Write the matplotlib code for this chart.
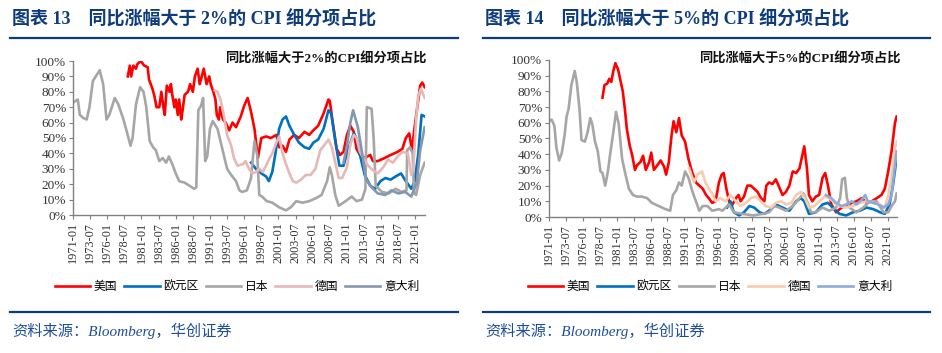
import matplotlib
matplotlib.use('Agg')
import matplotlib.pyplot as plt
from matplotlib.lines import Line2D
from matplotlib.ticker import PercentFormatter
import numpy as np

plt.rcParams['font.family'] = ['Liberation Serif', 'Noto Sans CJK SC']

# x axis labels (every 30 months)
tick_labels = ['1971-01', '1973-07', '1976-01', '1978-07', '1981-01', '1983-07', '1986-01',
               '1988-07', '1991-01', '1993-07', '1996-01', '1998-07', '2001-01', '2003-07',
               '2006-01', '2008-07', '2011-01', '2013-07', '2016-01', '2018-07', '2021-01']
names = ['美国', '欧元区', '日本', '德国', '意大利']

# ---------- share of CPI items with yoy > 2% (%), time in decimal years ----------
us2_t = [1979.0, 1979.3, 1979.5, 1979.8, 1980.2, 1980.4, 1980.9, 1981.4, 1981.9, 1982.1, 1982.6,
         1982.9, 1983.2, 1983.6, 1983.9, 1984.2, 1984.4, 1984.7, 1985.1, 1985.3, 1985.5, 1985.8,
         1986.0, 1986.3, 1986.5, 1986.8, 1987.0, 1987.3, 1987.8, 1988.1, 1988.5, 1988.8, 1989.2,
         1989.5, 1989.8, 1990.1, 1990.5, 1990.9, 1991.1, 1991.5, 1991.8, 1992.0, 1992.3, 1992.5,
         1992.9, 1993.3, 1993.8, 1994.3, 1994.8, 1995.5, 1996.0, 1996.5, 1997.0, 1997.5, 1998.0,
         1998.5, 1999.2, 1999.9, 2000.7, 2001.1, 2001.6, 2002.1, 2002.6, 2003.3, 2004.0, 2004.8,
         2005.5, 2006.1, 2006.8, 2007.6, 2008.3, 2008.5, 2008.9, 2009.5, 2010.0, 2010.5, 2011.0,
         2011.5, 2012.0, 2012.4, 2012.9, 2013.6, 2014.4, 2014.8, 2015.5, 2016.5, 2017.4, 2018.4,
         2019.1, 2019.6, 2020.1, 2020.5, 2020.8, 2021.3, 2021.7, 2022.0, 2022.35]
us2_v = [90, 97, 90, 97, 95, 98, 100, 97, 96, 88, 82,
         77, 70, 70, 80, 70, 65, 84, 80, 85, 78, 70,
         75, 65, 75, 62, 68, 78, 80, 85, 80, 90, 95,
         85, 90, 95, 85, 90, 85, 80, 75, 65, 62, 70,
         62, 60, 55, 60, 57, 64, 71, 76, 67, 56, 37,
         50, 51, 50, 52, 44, 45, 41, 49, 52, 50, 54,
         52, 55, 58, 66, 75, 74, 61, 43, 39, 41, 52,
         58, 54, 43, 39, 37, 39, 35, 35, 37, 39, 41,
         43, 50, 53, 42, 54, 71, 84, 86, 83]

eu2_t = [1997.0, 1997.7, 1998.5, 1999.2, 1999.6, 2000.1, 2000.6, 2001.1, 2001.6, 2002.1, 2002.6,
         2003.3, 2004.0, 2004.8, 2005.5, 2006.1, 2006.8, 2007.6, 2008.3, 2008.7, 2009.3, 2009.9,
         2010.5, 2011.2, 2012.0, 2012.4, 2012.9, 2013.6, 2014.4, 2015.1, 2015.9, 2016.6, 2017.4,
         2018.1, 2018.9, 2019.6, 2020.4, 2020.9, 2021.4, 2021.9, 2022.35]
eu2_v = [34, 30, 27, 25, 22, 28, 41, 56, 62, 64, 58,
         52, 47, 44, 43, 47, 49, 56, 68, 66, 48, 32,
         32, 43, 53, 50, 39, 26, 19, 17, 22, 24, 23,
         25, 27, 22, 17, 22, 39, 65, 64]

jp2_t = [1971.0, 1971.7, 1972.0, 1972.5, 1973.0, 1973.4, 1973.9, 1974.9, 1975.4, 1975.9, 1976.3,
         1977.1, 1977.6, 1978.3, 1978.8, 1979.4, 1979.7, 1980.2, 1980.8, 1981.3, 1981.7, 1982.2,
         1982.7, 1983.1, 1983.6, 1984.1, 1984.6, 1985.0, 1985.5, 1986.0, 1986.5, 1987.3, 1988.0,
         1988.7, 1989.0, 1989.3, 1989.7, 1990.0, 1990.3, 1990.6, 1991.0, 1991.4, 1992.1, 1992.8,
         1993.5, 1994.1, 1994.8, 1995.3, 1995.7, 1996.4, 1997.0, 1997.5, 1997.9, 1998.2, 1998.6,
         1999.3, 2000.1, 2001.1, 2002.1, 2002.8, 2003.6, 2004.5, 2005.5, 2006.5, 2007.3, 2008.1,
         2008.5, 2008.8, 2009.3, 2009.8, 2010.8, 2011.7, 2012.4, 2013.2, 2013.7, 2013.9, 2014.6,
         2014.9, 2015.2, 2016.1, 2017.1, 2018.1, 2019.0, 2019.7, 2019.8, 2020.2, 2020.6, 2020.8,
         2021.1, 2021.7, 2022.35]
jp2_v = [73, 75, 65, 63, 62, 70, 87, 94, 85, 62, 65,
         76, 72, 63, 55, 45, 50, 72, 83, 80, 70, 48,
         44, 42, 35, 37, 34, 38, 33, 27, 22, 21, 19,
         17, 18, 68, 71, 76, 35, 38, 56, 61, 56, 43,
         30, 26, 22, 16, 15, 16, 24, 48, 39, 13, 12,
         9, 8, 5, 3, 5, 9, 8, 9, 11, 13, 22,
         31, 26, 13, 6, 9, 12, 9, 10, 17, 70, 69,
         50, 19, 15, 14, 17, 15, 16, 42, 44, 40, 14,
         13, 26, 34]

de2_t = [1991.7, 1992.1, 1992.6, 1993.1, 1993.5, 1994.1, 1994.5, 1995.0, 1995.8, 1996.2, 1996.7,
         1997.2, 1997.7, 1998.2, 1998.7, 1999.2, 1999.6, 2000.1, 2000.6, 2001.1, 2001.6, 2002.1,
         2002.6, 2003.1, 2003.6, 2004.3, 2005.0, 2005.7, 2006.4, 2007.1, 2007.8, 2008.3, 2008.8,
         2009.3, 2009.8, 2010.3, 2011.0, 2011.5, 2012.0, 2012.4, 2012.9, 2013.4, 2014.1, 2014.8,
         2015.5, 2016.3, 2017.0, 2017.7, 2018.4, 2019.1, 2019.9, 2020.4, 2020.7, 2021.1, 2021.4,
         2021.8, 2022.35]
de2_v = [81, 80, 74, 63, 52, 45, 37, 32, 33, 35, 30,
         27, 28, 30, 28, 32, 36, 40, 46, 51, 40, 33,
         27, 22, 21, 23, 26, 26, 30, 42, 46, 49, 44,
         34, 24, 24, 31, 46, 52, 50, 41, 37, 32, 29,
         27, 31, 36, 34, 38, 41, 40, 26, 30, 62, 77,
         82, 76]

it2_t = [2010.5, 2011.0, 2011.5, 2011.9, 2012.6, 2013.3, 2013.8, 2014.6, 2015.5, 2016.6, 2017.5,
         2018.5, 2019.5, 2020.4, 2021.2, 2021.7, 2022.35]
it2_v = [34, 45, 60, 68, 57, 38, 23, 18, 14, 13, 16,
         14, 15, 12, 21, 42, 57]

# ---------- share of CPI items with yoy > 5% (%) ----------
us5_t = [1978.9, 1979.2, 1979.6, 1979.9, 1980.2, 1980.5, 1980.8, 1981.2, 1981.5, 1981.9, 1982.2,
         1982.5, 1982.9, 1983.3, 1983.7, 1984.0, 1984.5, 1984.9, 1985.3, 1985.8, 1986.1, 1986.5,
         1987.0, 1987.5, 1988.0, 1988.3, 1988.7, 1989.1, 1989.4, 1989.8, 1990.2, 1990.6, 1991.1,
         1991.6, 1992.1, 1992.7, 1993.2, 1993.7, 1994.2, 1994.6, 1995.1, 1995.6, 1996.1, 1996.5,
         1996.8, 1997.2, 1997.6, 1998.1, 1998.6, 1999.0, 1999.3, 1999.8, 2000.3, 2000.8, 2001.3,
         2001.8, 2002.3, 2002.8, 2003.1, 2003.5, 2004.0, 2004.5, 2005.0, 2005.5, 2006.0, 2006.5,
         2007.0, 2007.5, 2008.0, 2008.4, 2008.7, 2009.1, 2009.4, 2009.9, 2010.4, 2010.9, 2011.4,
         2011.8, 2012.2, 2012.7, 2013.4, 2014.2, 2014.9, 2015.7, 2016.4, 2017.2, 2017.9, 2018.7,
         2019.4, 2020.1, 2020.6, 2021.1, 2021.6, 2022.1, 2022.35]
us5_v = [76, 84, 85, 88, 86, 93, 98, 94, 88, 80, 69,
         56, 46, 39, 30, 33, 35, 39, 30, 35, 41, 30,
         33, 36, 32, 27, 35, 52, 61, 54, 63, 52, 48,
         37, 29, 22, 20, 18, 14, 12, 9, 10, 22, 27,
         28, 18, 10, 8, 12, 14, 10, 13, 20, 20, 18,
         16, 12, 10, 20, 22, 21, 24, 19, 14, 16, 20,
         29, 28, 31, 39, 45, 31, 14, 10, 13, 14, 25,
         28, 20, 8, 3, 6, 7, 9, 10, 12, 9, 10,
         12, 14, 18, 29, 42, 60, 64]

eu5_t = [1997.3, 1997.8, 1998.3, 1999.1, 1999.8, 2000.6, 2001.3, 2002.1, 2002.8, 2003.5, 2004.5,
         2005.5, 2006.5, 2007.5, 2008.2, 2008.7, 2009.4, 2010.4, 2011.4, 2012.2, 2012.9, 2013.9,
         2014.9, 2015.9, 2016.9, 2017.9, 2018.9, 2019.9, 2020.6, 2021.3, 2021.8, 2022.35]
eu5_v = [6, 10, 3, 1, 3, 7, 6, 3, 2, 4, 8,
         6, 4, 10, 12, 10, 2, 3, 8, 9, 6, 2,
         1, 3, 4, 6, 5, 3, 2, 8, 20, 38]

jp5_t = [1971.0, 1971.4, 1971.8, 1972.1, 1972.5, 1972.9, 1973.3, 1973.6, 1973.9, 1974.3, 1974.8,
         1975.1, 1975.5, 1975.8, 1976.3, 1976.7, 1977.1, 1977.4, 1977.8, 1978.2, 1978.6, 1978.9,
         1979.3, 1979.7, 1980.0, 1980.5, 1980.9, 1981.3, 1981.8, 1982.3, 1982.8, 1983.4, 1984.0,
         1984.7, 1985.5, 1986.2, 1987.2, 1988.2, 1988.9, 1989.3, 1989.8, 1990.2, 1990.6, 1991.1,
         1991.6, 1992.2, 1992.7, 1993.2, 1993.7, 1994.4, 1995.1, 1996.1, 1996.6, 1997.6, 1998.3,
         1999.6, 2001.1, 2002.6, 2003.5, 2004.3, 2005.0, 2006.0, 2007.0, 2008.0, 2008.6, 2009.1,
         2009.7, 2010.4, 2011.4, 2012.4, 2013.4, 2014.0, 2014.3, 2014.7, 2015.0, 2015.4, 2016.4,
         2017.4, 2018.4, 2019.4, 2020.4, 2021.1, 2021.6, 2022.1, 2022.35]
jp5_v = [61, 62, 58, 44, 36, 41, 52, 64, 69, 84, 93,
         86, 69, 49, 48, 54, 63, 59, 48, 42, 29, 28,
         20, 29, 39, 54, 67, 59, 37, 27, 18, 14, 13,
         13, 12, 9, 7, 5, 4, 14, 17, 22, 20, 29,
         25, 16, 10, 4, 7, 7, 4, 5, 4, 8, 3,
         2, 1, 2, 3, 7, 6, 4, 7, 12, 15, 10,
         3, 3, 6, 4, 6, 12, 24, 25, 12, 6, 3,
         6, 10, 10, 3, 3, 7, 10, 15]

de5_t = [1991.7, 1992.4, 1992.9, 1993.6, 1994.1, 1994.6, 1995.1, 1995.6, 1996.3, 1997.1, 1997.8,
         1998.6, 1999.3, 2000.1, 2000.8, 2001.6, 2002.3, 2003.0, 2003.8, 2004.5, 2005.3, 2006.0,
         2006.8, 2007.5, 2008.2, 2008.7, 2009.4, 2010.2, 2010.9, 2011.7, 2012.4, 2013.2, 2013.9,
         2014.9, 2015.9, 2016.9, 2017.9, 2018.9, 2019.9, 2020.6, 2021.1, 2021.6, 2022.1, 2022.35]
de5_v = [31, 22, 27, 29, 22, 18, 15, 10, 12, 10, 14,
         10, 7, 9, 12, 13, 10, 7, 6, 9, 10, 8,
         9, 14, 16, 13, 6, 7, 10, 13, 12, 9, 7,
         6, 7, 9, 10, 9, 8, 6, 14, 25, 44, 48]

it5_t = [2011.9, 2012.7, 2013.4, 2014.2, 2014.9, 2015.7, 2016.4, 2017.2, 2017.7, 2018.1, 2018.9,
         2019.6, 2020.4, 2021.1, 2021.6, 2022.1, 2022.35]
it5_v = [14, 12, 9, 7, 8, 10, 8, 11, 14, 10, 9,
         8, 6, 8, 14, 33, 42]

colors2 = ['#ff0000', '#0070c0', '#a6a6a6', '#e6b9b8', '#8497b0']
colors5 = ['#ff0000', '#0070c0', '#a6a6a6', '#f8cbad', '#8eaadb']

W, H = 942, 353
fig = plt.figure(figsize=(W / 100, H / 100), dpi=100)
navy = '#0d3b7c'


def fx(px):
    return px / W


def fy(py):
    return 1 - py / H


tick_pos = [int(s[:4]) + (int(s[5:]) - 1) / 12 for s in tick_labels]


def panel(rect, series, colors, inner_title, title_x):
    ax = fig.add_axes(rect)
    for (t, v), c, n in zip(series, colors, names):
        ax.plot(t, np.array(v) / 100, color=c, lw=1.9, label=n, solid_joinstyle='round')
    ax.set_xlim(1971, 2022.4)
    ax.set_ylim(0, 1)
    ax.set_yticks(np.arange(0, 1.01, 0.1))
    ax.yaxis.set_major_formatter(PercentFormatter(1, decimals=0))
    ax.set_xticks(tick_pos)
    ax.set_xticklabels(tick_labels, rotation=90)
    for s in ['top', 'right']:
        ax.spines[s].set_visible(False)
    for s in ['left', 'bottom']:
        ax.spines[s].set_color('#808080')
        ax.spines[s].set_linewidth(1.0)
    ax.tick_params(axis='y', direction='out', length=3, color='#808080',
                   labelsize=9.5, labelcolor='#333333', pad=2)
    ax.tick_params(axis='x', direction='out', length=3, color='#808080',
                   labelsize=8.8, labelcolor='#333333', pad=2)
    ax.patch.set_alpha(0)
    fig.text(title_x, fy(58), inner_title, fontsize=9.5, fontweight='bold',
             ha='center', va='center', color='#111111')
    return ax


s2 = [(us2_t, us2_v), (eu2_t, eu2_v), (jp2_t, jp2_v), (de2_t, de2_v), (it2_t, it2_v)]
s5 = [(us5_t, us5_v), (eu5_t, eu5_v), (jp5_t, jp5_v), (de5_t, de5_v), (it5_t, it5_v)]

ax1 = panel([fx(73), fy(215), fx(352), (215 - 61) / H], s2, colors2,
            '同比涨幅大于2%的CPI细分项占比', fx(326))
ax2 = panel([fx(549), fy(217), fx(348), (217 - 60) / H], s5, colors5,
            '同比涨幅大于5%的CPI细分项占比', fx(800))

# headers, rules, legends, source
for x0, x1, lbl, ax, lx in [(10, 458, '图表 13　同比涨幅大于 2%的 CPI 细分项占比', ax1, 237),
                             (483, 930, '图表 14　同比涨幅大于 5%的 CPI 细分项占比', ax2, 710)]:
    fig.text(fx(x0 + 2), fy(19), lbl, fontsize=13, fontweight='bold', color=navy,
             ha='left', va='center')
    fig.add_artist(Line2D([fx(x0), fx(x1)], [fy(38), fy(38)], color=navy, lw=1.6))
    fig.add_artist(Line2D([fx(x0), fx(x1)], [fy(312), fy(312)], color=navy, lw=1.6))
    h, l = ax.get_legend_handles_labels()
    fig.legend(h, l, loc='center', bbox_to_anchor=(fx(lx), fy(287)), ncol=5, frameon=False,
               fontsize=8.5, handlelength=3.0, handletextpad=0.3, columnspacing=0.6)
    fig.text(fx(x0 + 2), fy(331), '资料来源：Bloomberg，华创证券', fontsize=11,
             style='italic', color='#1f4e99', ha='left', va='center')

fig.savefig('out.png', dpi=100)
